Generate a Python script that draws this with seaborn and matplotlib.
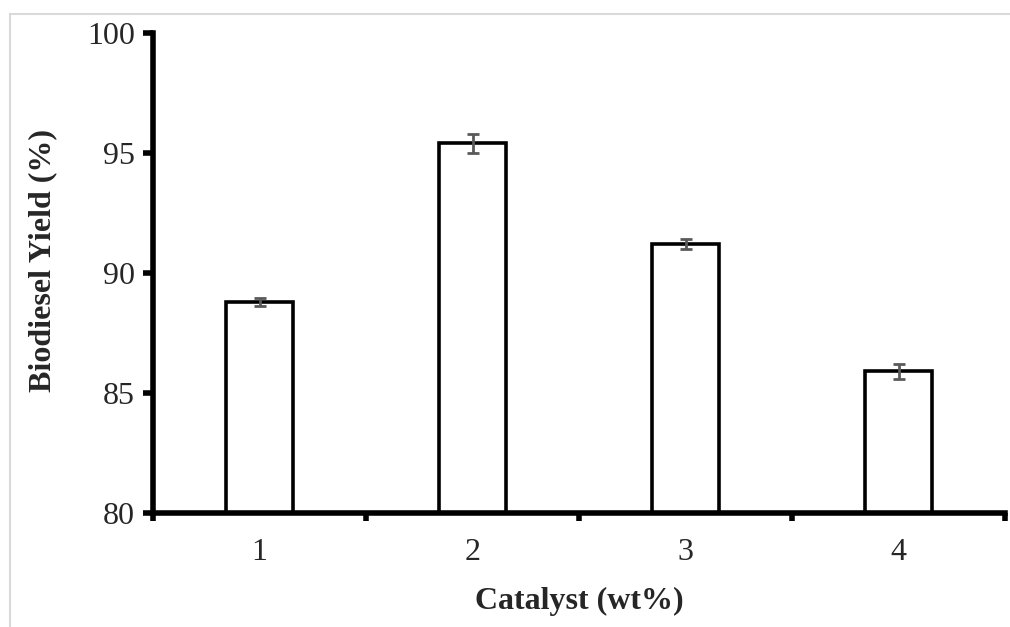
import matplotlib
matplotlib.use("Agg")
import matplotlib.pyplot as plt
import seaborn as sns
import pandas as pd
import numpy as np

# data
catalyst = ["1", "2", "3", "4"]
yield_pct = [88.8, 95.4, 91.2, 85.9]
yield_err = [0.17, 0.38, 0.22, 0.32]

sns.set_style("white")
plt.rcParams["font.family"] = ["Liberation Serif", "DejaVu Serif"]

df = pd.DataFrame({"Catalyst": catalyst, "Yield": yield_pct})

fig = plt.figure(figsize=(10.1, 6.27), dpi=100)
fig.patch.set_facecolor("white")
# faint page frame as in the reference
fig.add_artist(plt.Rectangle((10 / 1010, -0.01), 1.0, 1 - 14 / 627 + 0.01,
                             transform=fig.transFigure, fill=False,
                             edgecolor="#d9d9d9", linewidth=1.5))
ax = fig.add_axes([153 / 1010, 1 - 513 / 627, (1005 - 153) / 1010, (513 - 33) / 627])

sns.barplot(data=df, x="Catalyst", y="Yield", ax=ax, color="white",
            edgecolor="black", linewidth=2.6, width=0.31, saturation=1,
            errorbar=None)
ax.errorbar(np.arange(len(catalyst)), yield_pct, yerr=yield_err, fmt="none",
            ecolor="#5a5a5a", elinewidth=2, capsize=4.3, capthick=2, zorder=5)

ax.set_ylim(80, 100)
ax.set_xlim(-0.5, len(catalyst) - 0.5)
ax.set_yticks([80, 85, 90, 95, 100])

ax.set_xticks(np.arange(len(catalyst)))
ax.set_xticklabels(catalyst)
ax.set_xticks(np.arange(-0.5, len(catalyst)), minor=True)
ax.tick_params(axis="x", which="major", length=0, pad=18, labelsize=23)
ax.tick_params(axis="x", which="minor", direction="out", length=6, width=4,
               color="black", bottom=True)
ax.tick_params(axis="y", direction="out", length=7, width=4, color="black",
               left=True, labelsize=23, pad=6)

for side in ["top", "right"]:
    ax.spines[side].set_visible(False)
for side in ["left", "bottom"]:
    ax.spines[side].set_color("black")
    ax.spines[side].set_linewidth(4)

ax.set_xlabel("Catalyst (wt%)", fontsize=23, fontweight="bold", labelpad=14)
ax.set_ylabel("Biodiesel Yield (%)", fontsize=23, fontweight="bold")
ax.yaxis.set_label_coords(-0.112, 0.525)

fig.savefig("out.png", dpi=100, facecolor="white")
